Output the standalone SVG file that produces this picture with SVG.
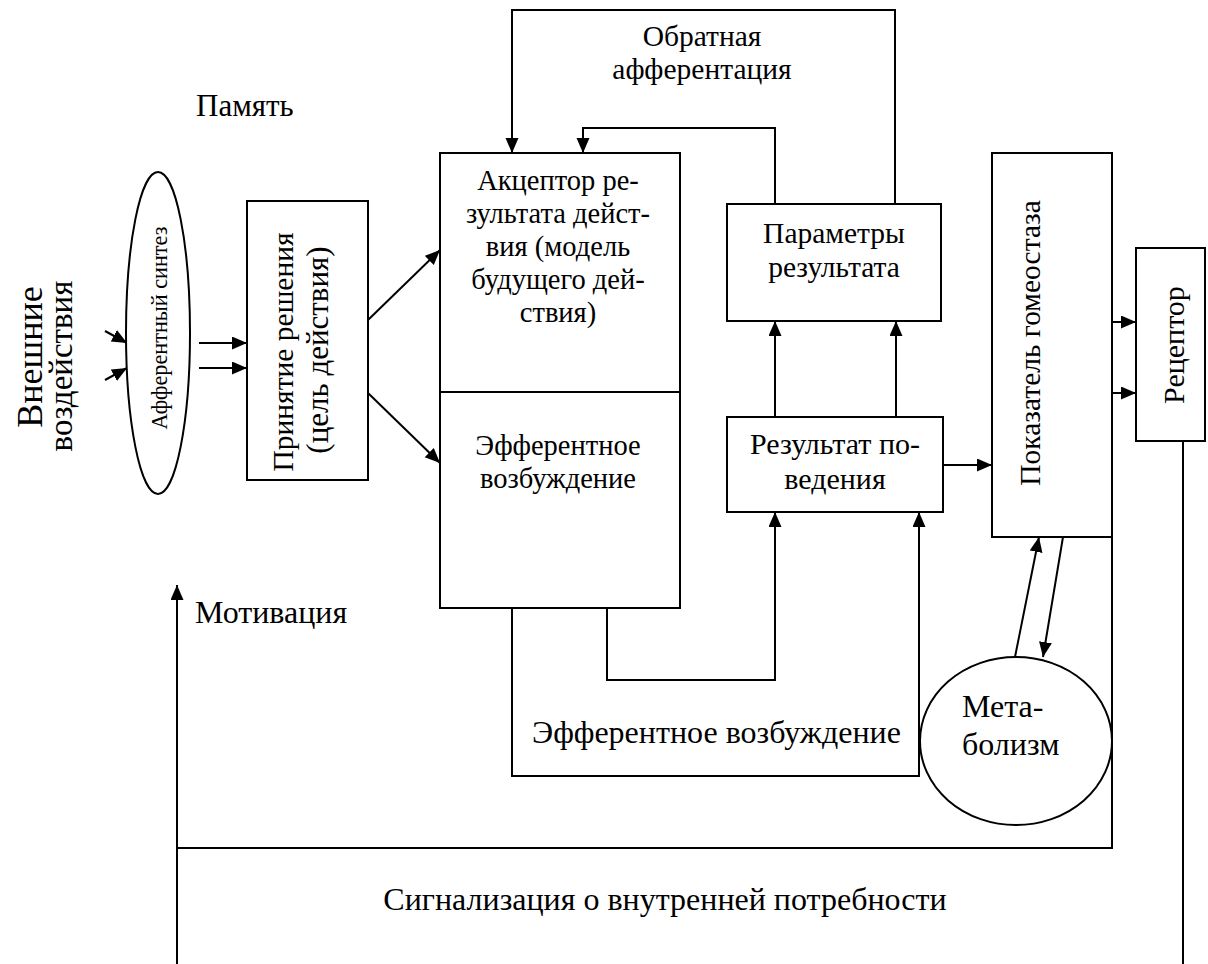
<svg xmlns="http://www.w3.org/2000/svg" width="1208" height="964" viewBox="0 0 1208 964">
<defs>
<marker id="ah" markerUnits="userSpaceOnUse" markerWidth="16" markerHeight="14" refX="15" refY="6.5" orient="auto">
<path d="M0,0 L15,6.5 L0,13 z" fill="#000"/>
</marker>
<style>
.box{fill:#fff;stroke:#000;stroke-width:2}
.ln{fill:none;stroke:#000;stroke-width:2}
.ar{fill:none;stroke:#000;stroke-width:2;marker-end:url(#ah)}
text{font-family:"Liberation Serif","Times New Roman",serif;fill:#000}
.c{text-anchor:middle}
.f28{font-size:28.5px}
.f29{font-size:29.5px}
.f30{font-size:30px}
.f31{font-size:31px}
.big{font-size:32px}
.ext{font-size:36px}
.ext2{font-size:33px}
.aff{font-size:24px}
</style>
</defs>
<rect width="1208" height="964" fill="#fff"/>

<g id="connectors">
<path class="ar" d="M895,204 V10 H512 V153"/>
<path class="ar" d="M775,204 V128 H583 V153"/>
<path class="ar" d="M368,320 L440,250"/>
<path class="ar" d="M368,393 L440,463"/>
<path class="ar" d="M199,343 H247"/>
<path class="ar" d="M199,368 H247"/>
<path class="ar" d="M105,331 L127,343"/>
<path class="ar" d="M105,380 L127,368"/>
<path class="ar" d="M775,417 V321"/>
<path class="ar" d="M896,417 V321"/>
<path class="ar" d="M943,465 H992"/>
<path class="ar" d="M1112,322 H1136"/>
<path class="ar" d="M1112,393 H1136"/>
<path class="ar" d="M607,608 V680 H775 V512"/>
<path class="ar" d="M512,608 V776 H919 V512"/>
<path class="ar" d="M1015,657 L1039,537"/>
<path class="ar" d="M1063,537 L1043,657"/>
<path class="ln" d="M1112,537 V848 H177"/>
<path class="ar" d="M177,964 V585"/>
<path class="ln" d="M1183,441 V964"/>
</g>

<g id="external">
<text class="c ext" transform="translate(42,357) rotate(-90)">Внешние</text>
<text class="c ext2" transform="translate(72,366) rotate(-90)">воздействия</text>
</g>

<g id="afferent-synthesis">
<ellipse class="box" cx="158" cy="333" rx="32" ry="161"/>
<text class="c aff" transform="translate(167,328) rotate(-90)" textLength="203" lengthAdjust="spacingAndGlyphs">Афферентный синтез</text>
</g>

<g id="memory"><text class="f31" x="196" y="116">Память</text></g>
<g id="motivation"><text class="big" x="195" y="623">Мотивация</text></g>

<g id="decision">
<rect class="box" x="247" y="201" width="121" height="279"/>
<text class="c f29" transform="translate(293,352) rotate(-90)">Принятие решения</text>
<text class="c f31" transform="translate(328,350) rotate(-90)">(цель действия)</text>
</g>

<g id="acceptor">
<rect class="box" x="440" y="153" width="240" height="455"/>
<line class="ln" x1="440" y1="392" x2="680" y2="392"/>
<text class="c f28" x="558" y="190">Акцептор ре-</text>
<text class="c f28" x="558" y="223">зультата дейст-</text>
<text class="c f28" x="558" y="256">вия (модель</text>
<text class="c f28" x="558" y="289">будущего дей-</text>
<text class="c f28" x="558" y="322">ствия)</text>
<text class="c f28" x="558" y="455">Эфферентное</text>
<text class="c f28" x="558" y="488">возбуждение</text>
</g>

<g id="feedback-label">
<text class="c f29" x="702" y="46">Обратная</text>
<text class="c f29" x="702" y="79">афферентация</text>
</g>

<g id="parameters">
<rect class="box" x="727" y="204" width="214" height="117"/>
<text class="c f29" x="834" y="243">Параметры</text>
<text class="c f29" x="834" y="277">результата</text>
</g>

<g id="result">
<rect class="box" x="727" y="417" width="216" height="95"/>
<text class="c f30" x="835" y="454">Результат по-</text>
<text class="c f30" x="835" y="489">ведения</text>
</g>

<g id="efferent-label"><text class="big" x="532" y="743">Эфферентное возбуждение</text></g>

<g id="homeostasis">
<rect class="box" x="992" y="153" width="120" height="384"/>
<text class="c f29" transform="translate(1040,343) rotate(-90)">Показатель гомеостаза</text>
</g>

<g id="receptor">
<rect class="box" x="1136" y="248" width="69" height="193"/>
<text class="c f30" transform="translate(1184,345) rotate(-90)">Рецептор</text>
</g>

<g id="metabolism">
<ellipse class="box" cx="1016" cy="741" rx="96" ry="84"/>
<text class="big" x="962" y="717">Мета-</text>
<text class="big" x="962" y="755">болизм</text>
</g>

<g id="signal-label"><text class="c big" x="665" y="910">Сигнализация о внутренней потребности</text></g>
</svg>
